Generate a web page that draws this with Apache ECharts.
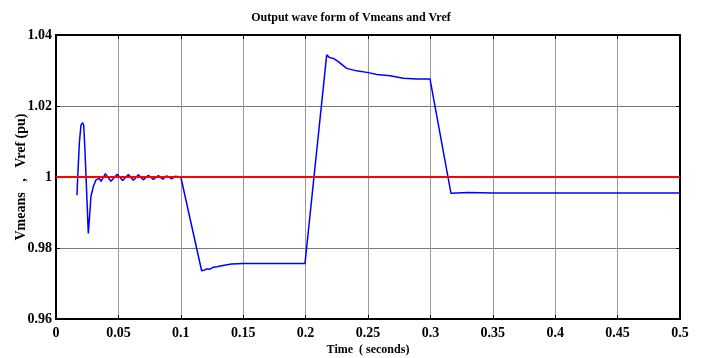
<!DOCTYPE html>
<html>
<head>
<meta charset="utf-8">
<script src="https://cdn.jsdelivr.net/npm/echarts@6/dist/echarts.min.js"></script>
<style>
  html, body { margin: 0; padding: 0; background: #fff; }
  #chart { width: 702px; height: 358px; }
</style>
</head>
<body>
<div id="chart"></div>
<script>
// time (s) and Vmeans (pu)
const timeValues = [
  0.0168, 0.0174, 0.0187, 0.0200, 0.0214, 0.0222, 0.0232, 0.0246, 0.0259, 0.0267,
  0.0280, 0.0299, 0.0321, 0.0334, 0.0347, 0.0361, 0.0395, 0.0440, 0.0491, 0.0534,
  0.0580, 0.0620, 0.0660, 0.0700, 0.0740, 0.0780, 0.0820, 0.0855, 0.0887, 0.0927,
  0.0954, 0.1000, 0.1167, 0.1185, 0.1207, 0.1230, 0.1261, 0.1290, 0.1327, 0.1360,
  0.1407, 0.1500, 0.1700, 0.1995, 0.2169, 0.2190, 0.2222, 0.2262, 0.2276, 0.2329,
  0.2409, 0.2503, 0.2570, 0.2676, 0.2783, 0.2889, 0.2997, 0.3165, 0.3300, 0.3500,
  0.5000
]
const vmeansValues = [
  0.9949, 1.0000, 1.0095, 1.0146, 1.0153, 1.0146, 1.0076, 0.9954, 0.9841, 0.9879,
  0.9945, 0.9973, 0.9992, 0.9987, 0.9996, 0.9988, 1.0009, 0.9988, 1.0008, 0.9990,
  1.0007, 0.9991, 1.0006, 0.9992, 1.0005, 0.9993, 1.0004, 0.9994, 1.0003, 0.9995,
  1.0002, 1.0000, 0.9736, 0.9737, 0.9741, 0.9740, 0.9746, 0.9747, 0.9750, 0.9752,
  0.9755, 0.9756, 0.9756, 0.9756, 1.0344, 1.0337, 1.0334, 1.0325, 1.0320, 1.0306,
  1.0299, 1.0294, 1.0289, 1.0285, 1.0278, 1.0276, 1.0276, 0.9954, 0.9956, 0.9955,
  0.9955
]
const vrefTime = [0, 0.5]
const vrefValues = [1, 1]

const xTickLabels = ['0', '0.05', '0.1', '0.15', '0.2', '0.25', '0.3', '0.35', '0.4', '0.45', '0.5']
const yTickLabels = ['0.96', '0.98', '1', '1.02', '1.04']

const font = 'Liberation Serif'

const chart = echarts.init(document.getElementById('chart'))

const labelStyle = { color: '#000', fontFamily: font, fontWeight: 'bold', fontSize: 14 }

chart.setOption({
  animation: false,
  backgroundColor: '#fff',
  title: {
    text: 'Output wave form of Vmeans and Vref',
    left: 'center',
    top: 7,
    textStyle: { color: '#000', fontFamily: font, fontWeight: 'bold', fontSize: 12 }
  },
  grid: { left: 56, right: 22, top: 35, bottom: 39, outerBoundsMode: 'none', containLabel: false },
  xAxis: [
    {
      type: 'value',
      min: 0,
      max: 0.5,
      interval: 0.05,
      name: 'Time  ( seconds)',
      nameLocation: 'middle',
      nameGap: 25,
      nameMoveOverlap: false,
      nameTextStyle: { color: '#000', fontFamily: font, fontWeight: 'bold', fontSize: 12, verticalAlign: 'top' },
      axisLine: { show: true, onZero: false, lineStyle: { color: '#000', width: 2 } },
      axisTick: { show: true, inside: true, length: 4, lineStyle: { color: '#000' } },
      axisLabel: {
        ...labelStyle,
        margin: 7,
        formatter: (v) => xTickLabels[Math.round(v / 0.05)]
      },
      splitLine: { show: true, lineStyle: { color: '#999', width: 1 } }
    },
    {
      type: 'value',
      position: 'top',
      min: 0,
      max: 0.5,
      interval: 0.05,
      axisLine: { show: true, onZero: false, lineStyle: { color: '#000', width: 2 } },
      axisTick: { show: true, inside: true, length: 4, lineStyle: { color: '#000' } },
      axisLabel: { show: false },
      splitLine: { show: false }
    }
  ],
  yAxis: [
    {
      type: 'value',
      min: 0.96,
      max: 1.04,
      interval: 0.02,
      name: 'Vmeans   ,   Vref (pu)',
      nameLocation: 'middle',
      nameGap: 28,
      nameMoveOverlap: false,
      nameTextStyle: { color: '#000', fontFamily: font, fontWeight: 'bold', fontSize: 14 },
      axisLine: { show: true, onZero: false, lineStyle: { color: '#000', width: 2 } },
      axisTick: { show: true, inside: true, length: 4, lineStyle: { color: '#000' } },
      axisLabel: {
        ...labelStyle,
        margin: 4,
        formatter: (v) => yTickLabels[Math.round((v - 0.96) / 0.02)]
      },
      splitLine: { show: true, lineStyle: { color: '#7a7a7a', width: 1 } }
    },
    {
      type: 'value',
      position: 'right',
      min: 0.96,
      max: 1.04,
      interval: 0.02,
      axisLine: { show: true, onZero: false, lineStyle: { color: '#000', width: 2 } },
      axisTick: { show: true, inside: true, length: 4, lineStyle: { color: '#000' } },
      axisLabel: { show: false },
      splitLine: { show: false }
    }
  ],
  series: [
    {
      name: 'Vref',
      type: 'line',
      showSymbol: false,
      data: vrefTime.map((t, i) => [t, vrefValues[i]]),
      lineStyle: { color: '#ff0000', width: 2 },
      z: 3
    },
    {
      name: 'Vmeans',
      type: 'line',
      showSymbol: false,
      data: timeValues.map((t, i) => [t, vmeansValues[i]]),
      lineStyle: { color: '#0000ff', width: 1.5 },
      z: 2
    }
  ]
})
</script>
</body>
</html>
